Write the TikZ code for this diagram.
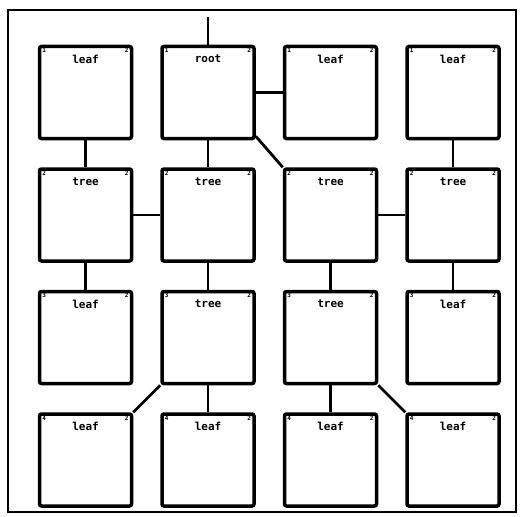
\documentclass[tikz,border=0pt]{standalone}
\usepackage{fontspec}
\setmainfont{DejaVu Sans Mono}
\begin{document}
\begin{tikzpicture}[x=1pt,y=-1pt,
  cell/.style={draw,line width=3.5pt,rounded corners=2pt,minimum width=92pt,minimum height=92pt,inner sep=0pt},
  lbl/.style={font=\bfseries\fontsize{11}{11}\selectfont,anchor=north,inner sep=0pt},
  idx/.style={font=\bfseries\fontsize{6}{6}\selectfont,inner sep=0pt},
  link/.style={line width=2.8pt}]
\useasboundingbox (0,0) rectangle (524,516);
\draw[line width=2pt] (8,10) rectangle (516,512);
\foreach \r/\names in {1/{leaf,root,leaf,leaf},2/{tree,tree,tree,tree},3/{leaf,tree,tree,leaf},4/{leaf,leaf,leaf,leaf}}{
  \foreach \t [count=\c] in \names {
    \node[cell] (b\r\c) at ({85.5+122.5*(\c-1)},{92.5+122.5*(\r-1)}) {};
    \node[lbl] (t\r\c) at ([yshift=-10pt]b\r\c.north) {\t};
    \node[idx] (l\r\c) at ([xshift=6.5pt,yshift=-6pt]b\r\c.north west) {\r};
    \node[idx] (n\r\c) at ([xshift=-6.5pt,yshift=-6pt]b\r\c.north east) {2};
  }
}
\coordinate (top) at (208,17);
\draw[link] (b12.north) -- (top);
\draw[link] (b12.east) -- (b13.west);
\draw[link] ([yshift=4pt]b12.south east) -- (b23.north west);
\draw[link] (b12.south) -- (b22.north);
\draw[link] (b11.south) -- (b21.north);
\draw[link] (b14.south) -- (b24.north);
\draw[link] (b21.east) -- (b22.west);
\draw[link] (b23.east) -- (b24.west);
\draw[link] (b21.south) -- (b31.north);
\draw[link] (b22.south) -- (b32.north);
\draw[link] (b23.south) -- (b33.north);
\draw[link] (b24.south) -- (b34.north);
\draw[link] (b32.south west) -- (b41.north east);
\draw[link] (b32.south) -- (b42.north);
\draw[link] (b33.south) -- (b43.north);
\draw[link] (b33.south east) -- (b44.north west);
\end{tikzpicture}
\end{document}
